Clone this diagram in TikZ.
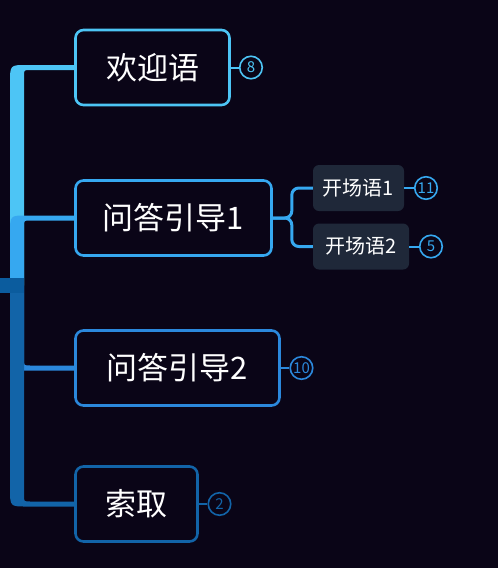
\documentclass[tikz,border=0pt]{standalone}
\usepackage{fontspec}
\setmainfont{Noto Sans CJK SC}
\usetikzlibrary{positioning,calc}
\definecolor{bgdark}{HTML}{0A0517}
\definecolor{branchA}{HTML}{4DC5F5}
\definecolor{branchB}{HTML}{36A8F0}
\definecolor{branchC}{HTML}{2B88DC}
\definecolor{branchD}{HTML}{1264A8}
\definecolor{rootblue}{HTML}{0B5C9E}
\definecolor{subfill}{HTML}{1F2839}
\tikzset{
  topic/.style={draw,line width=2.6pt,rounded corners=8pt,fill=bgdark,text=white,
    font=\fontsize{31}{34}\selectfont,minimum height=75pt,inner sep=0pt},
  subtopic/.style={fill=subfill,rounded corners=6pt,text=white,
    font=\fontsize{20}{23}\selectfont,minimum height=46pt,inner sep=0pt},
  badge/.style={circle,draw,line width=1.6pt,minimum size=22.5pt,inner sep=0pt,
    font=\fontsize{15}{16}\selectfont},
  twig/.style={line width=3pt,rounded corners=7pt},
  tick/.style={line width=2pt}
}

\begin{document}
\begin{tikzpicture}[x=1pt,y=-1pt,line cap=butt,line join=round]
  \fill[bgdark] (0,0) rectangle (498,568);
  \useasboundingbox (0,0) rectangle (498,568);
  % main topics
  \node[topic,draw=branchA,minimum width=154pt] (n1) at (152.5,67.5) {欢迎语};
  \node[topic,draw=branchB,minimum width=196pt] (n2) at (173.5,218) {问答引导1};
  \node[topic,draw=branchC,minimum width=204pt] (n3) at (177.5,368) {问答引导2};
  \node[topic,draw=branchD,minimum width=122pt] (n4) at (136.5,504) {索取};
  % sub topics
  \node[subtopic,minimum width=91pt] (s1) at (358.5,188) {开场语1};
  \node[subtopic,minimum width=96pt] (s2) at (361,246.5) {开场语2};
  % trunk
  \coordinate (trunkL) at (10,285.5);
  \coordinate (trunkR) at (24,285.5);
  \foreach \nd/\col/\s in {n1/branchA/1,n2/branchB/1,n3/branchC/-1,n4/branchD/-1}{
    \fill[\col] (trunkL) -- ($(\nd.west -| trunkL)+(0,{16*(\s)})$)
      .. controls ($(\nd.west -| trunkL)+(0,{-2.5*(\s)})$) .. ($(\nd.west -| trunkL)+(16,{-2.5*(\s)})$)
      -- ($(\nd.west)+(1,{-2.5*(\s)})$) -- ($(\nd.west)+(1,{2.5*(\s)})$)
      -- ($(\nd.west -| trunkR)+(6,{2.5*(\s)})$)
      .. controls ($(\nd.west -| trunkR)+(0,{2.5*(\s)})$) .. ($(\nd.west -| trunkR)+(0,{8.5*(\s)})$)
      -- (trunkR) -- cycle;
  }
  \node[fill=rootblue,minimum width=24pt,minimum height=15pt,inner sep=0pt] (root) at (12,285.5) {};
  % second level
  \coordinate (fork) at ($(n2.east)+(19,0)$);
  \draw[twig,branchB] (n2.east) -- (fork) |- (s1.west);
  \draw[twig,branchB] (n2.east) -- (fork) |- (s2.west);
  % counters
  \node[badge,draw=branchA,text=branchA] (b1) at (251,67.5) {8};
  \node[badge,draw=branchB,text=branchB] (bs1) at (426,188) {11};
  \node[badge,draw=branchB,text=branchB] (bs2) at (431,246.5) {5};
  \node[badge,draw=branchC,text=branchC] (b3) at (301.5,368) {10};
  \node[badge,draw=branchD,text=branchD] (b4) at (219.5,504) {2};
  \draw[tick,branchA] (n1.east) -- (b1);
  \draw[tick,branchB] (s1.east) -- (bs1);
  \draw[tick,branchB] (s2.east) -- (bs2);
  \draw[tick,branchC] (n3.east) -- (b3);
  \draw[tick,branchD] (n4.east) -- (b4);
\end{tikzpicture}
\end{document}
